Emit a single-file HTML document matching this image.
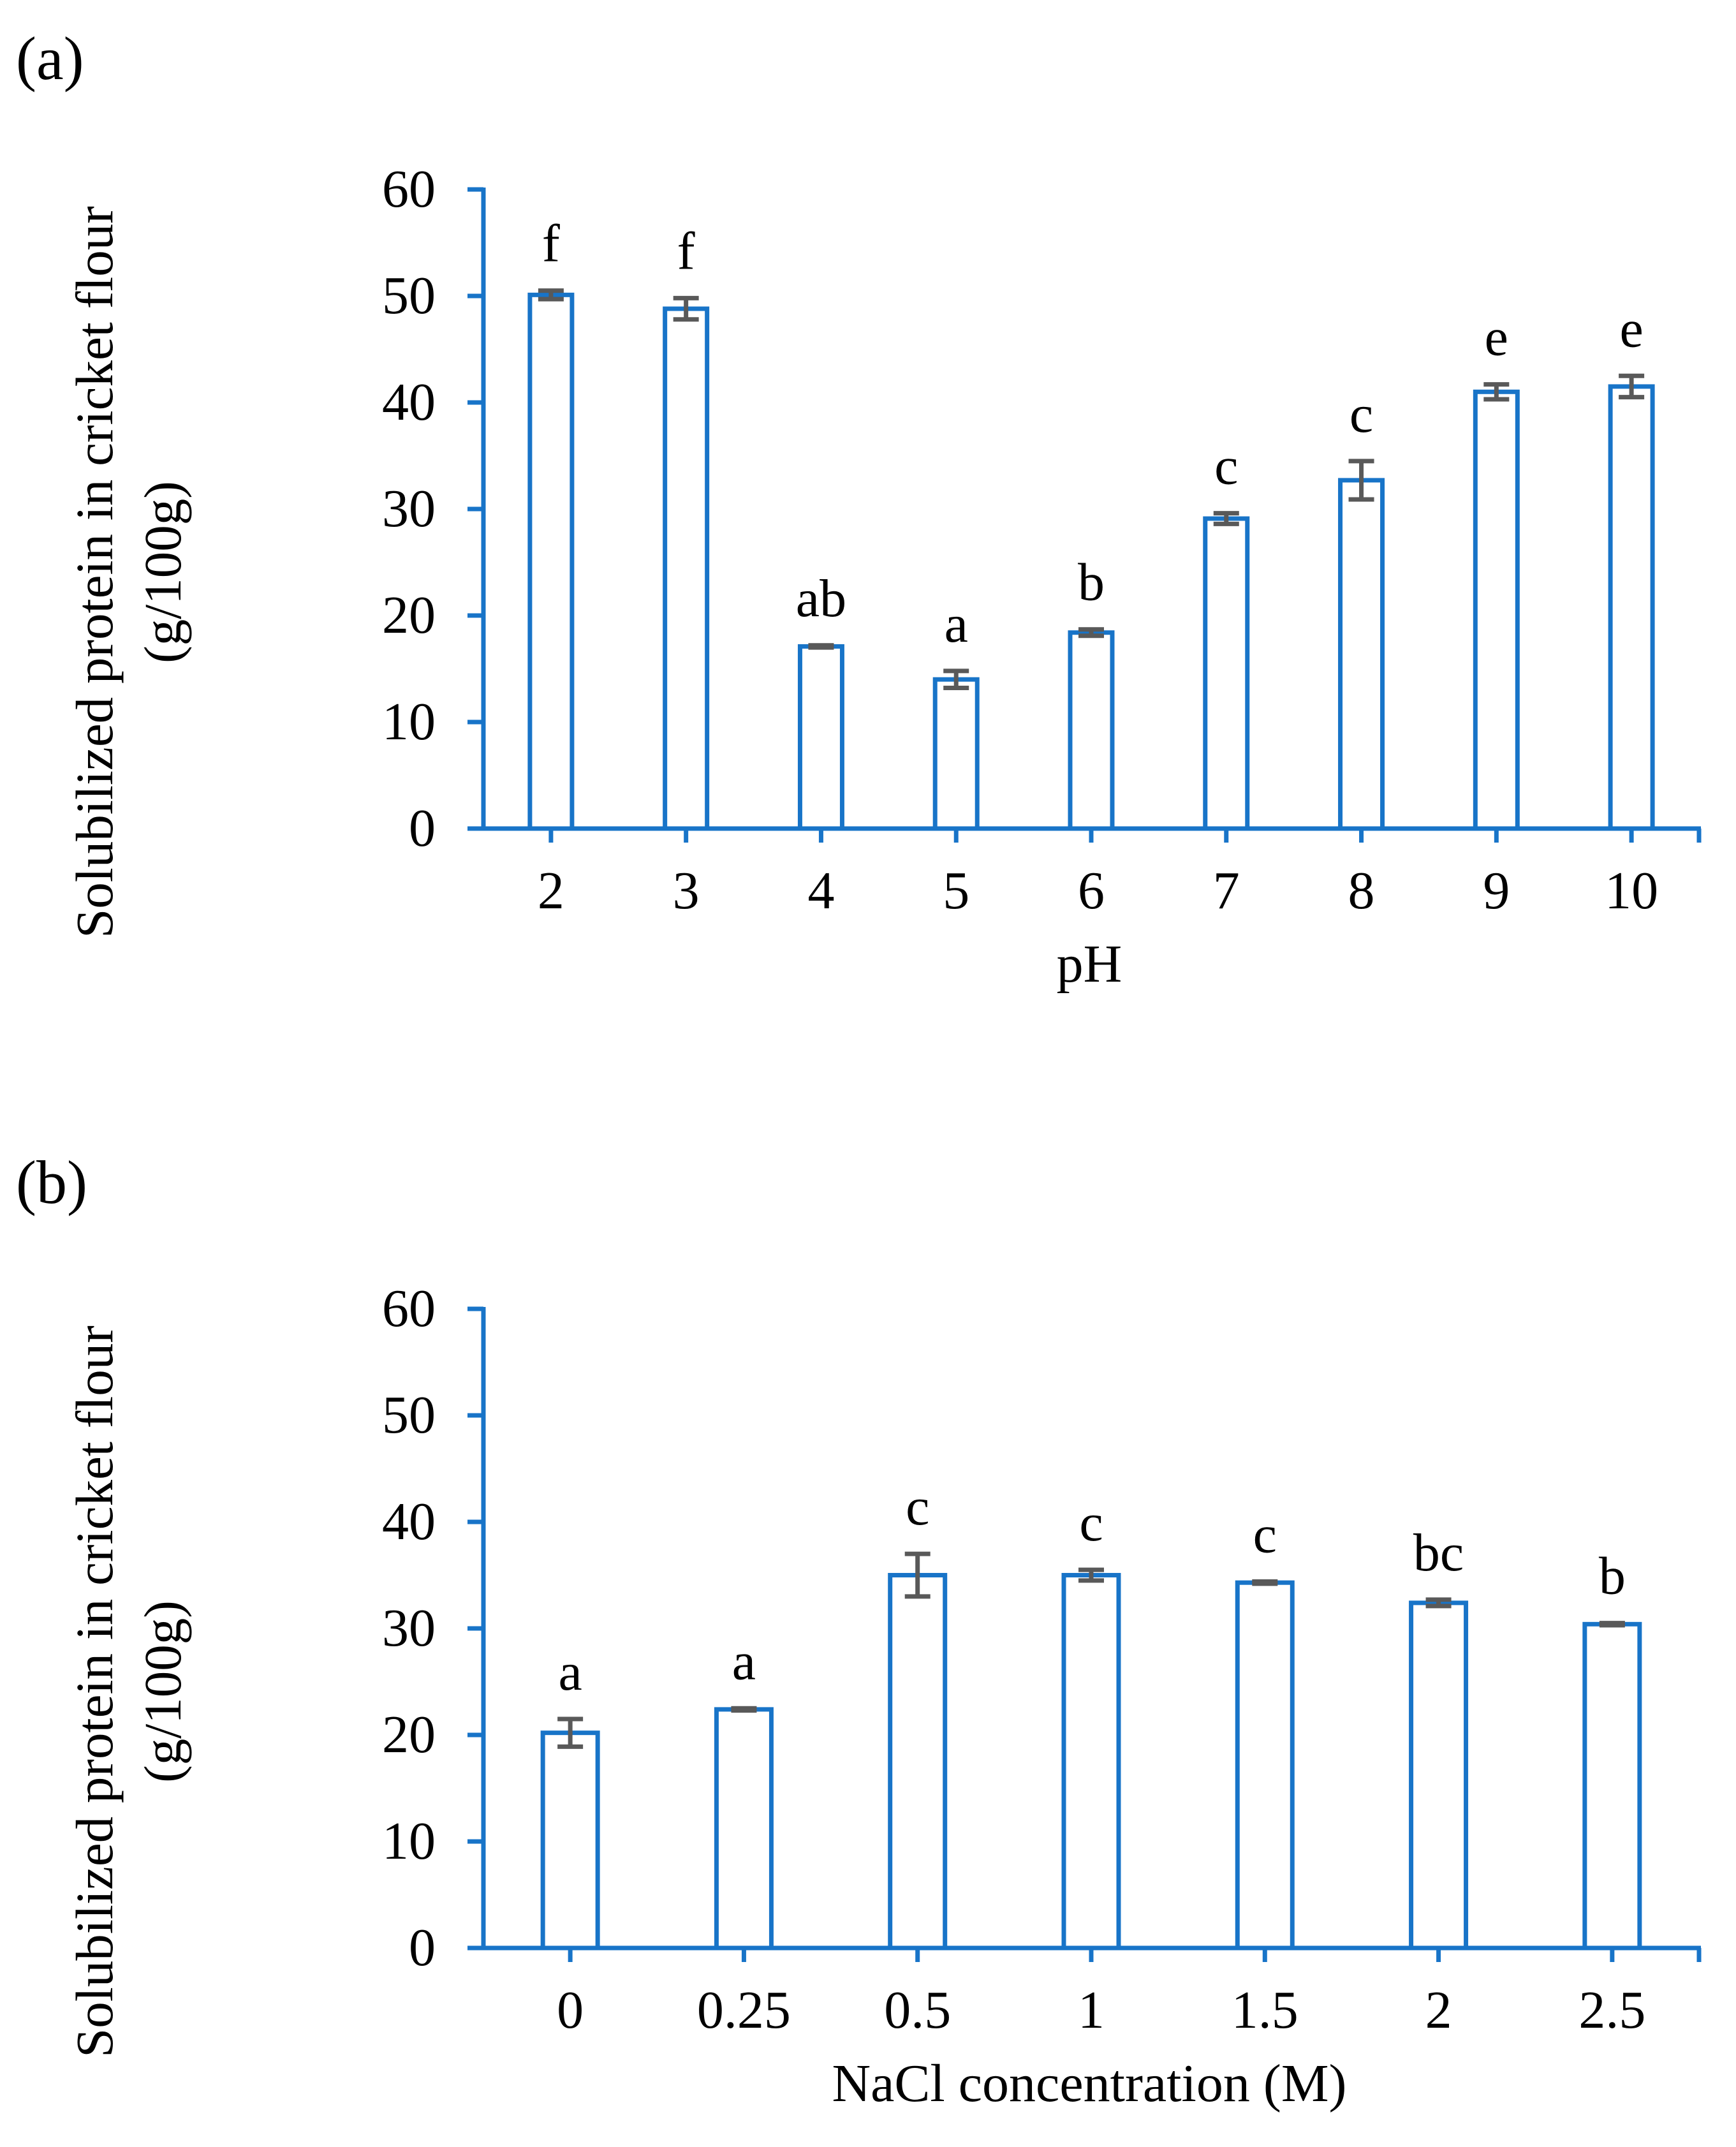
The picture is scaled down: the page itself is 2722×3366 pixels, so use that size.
<!DOCTYPE html>
<html><head><meta charset="utf-8"><style>
html,body{margin:0;padding:0;background:#fff;}
svg{display:block;font-family:"Liberation Serif",serif;}
</style></head><body>
<svg id="fig" width="2722" height="3366" viewBox="0 0 2722 3366" xmlns="http://www.w3.org/2000/svg">
<rect width="2722" height="3366" fill="#fff"/>
<text x="25" y="124" font-size="96">(a)</text>
<text x="25" y="1886" font-size="96">(b)</text>
<g id="pa"></g>
<g id="pb"></g>
</svg>
<script>
const phCategories = ["2","3","4","5","6","7","8","9","10"];
const phValues = [50.1,48.8,17.1,14.0,18.4,29.1,32.7,41.0,41.5];
const phErrors = [0.4,1.0,0.1,0.8,0.3,0.5,1.8,0.7,1.0];
const phLetters = ["f","f","ab","a","b","c","c","e","e"];
const naclCategories = ["0","0.25","0.5","1","1.5","2","2.5"];
const naclValues = [20.2,22.4,35.0,35.0,34.3,32.4,30.4];
const naclErrors = [1.3,0.1,2.0,0.5,0.1,0.3,0.1];
const naclLetters = ["a","a","c","c","c","bc","b"];
const yTicks = [0,10,20,30,40,50,60];

const NS="http://www.w3.org/2000/svg";
const BLUE="#1874c8";
function mk(tag,attrs,parent){const e=document.createElementNS(NS,tag);for(const k in attrs)e.setAttribute(k,attrs[k]);parent.appendChild(e);return e;}

function drawChart(g,cats,vals,errs,letters,zeroY,barW,xTitle,prefix){
  const x0=758,x1=2664,unit=16.7;
  const band=(x1-x0)/cats.length;
  const y=v=>zeroY-v*unit;
  const cx=i=>x0+band*(i+0.5);
  const tt=mk("text",{x:0,y:0,"font-size":83,"text-anchor":"middle",transform:`translate(176,${zeroY-402}) rotate(-90)`},g);
  tt.textContent="Solubilized protein in cricket flour";
  
  
  const tt2=mk("text",{x:0,y:0,"font-size":83,"text-anchor":"middle",transform:`translate(283,${zeroY-402}) rotate(-90)`},g);
  tt2.textContent="(g/100g)";
  
  
  yTicks.forEach(t=>{
    const l=mk("line",{x1:733,x2:758,y1:y(t),y2:y(t),stroke:BLUE,"stroke-width":7},g);
    
    
    const tx=mk("text",{x:683,y:y(t)+27,"font-size":84,"text-anchor":"end"},g);
    tx.textContent=String(t);
    
    
  });
  cats.forEach((c,i)=>{
    const v=vals[i],e=errs[i];
    const r=mk("rect",{x:cx(i)-barW/2,y:y(v),width:barW,height:zeroY-y(v),fill:"#fff",stroke:BLUE,"stroke-width":7},g);
    
    
    const eg=mk("g",{stroke:"#595959","stroke-width":7},g);
    
    
    mk("line",{x1:cx(i),x2:cx(i),y1:y(v+e),y2:y(v-e)},eg);
    mk("line",{x1:cx(i)-20,x2:cx(i)+20,y1:y(v+e),y2:y(v+e)},eg);
    mk("line",{x1:cx(i)-20,x2:cx(i)+20,y1:y(v-e),y2:y(v-e)},eg);
    const lt=mk("text",{x:cx(i),y:y(v+e)-46,"font-size":84,"text-anchor":"middle"},g);
    lt.textContent=letters[i];
    
    
    const xt=mk("line",{x1:cx(i),x2:cx(i),y1:zeroY,y2:zeroY+22,stroke:BLUE,"stroke-width":7},g);
    
    
    const xl=mk("text",{x:cx(i),y:zeroY+125,"font-size":84,"text-anchor":"middle"},g);
    xl.textContent=c;
    
    
  });
  const et=mk("line",{x1:x1,x2:x1,y1:zeroY,y2:zeroY+22,stroke:BLUE,"stroke-width":7},g);
  
  
  const ya=mk("line",{x1:758,x2:758,y1:y(60)-3,y2:zeroY,stroke:BLUE,"stroke-width":7},g);
  
  
  const xa=mk("line",{x1:733,x2:x1+3,y1:zeroY,y2:zeroY,stroke:BLUE,"stroke-width":7},g);
  
  
  const xtt=mk("text",{x:1708,y:zeroY+240,"font-size":84,"text-anchor":"middle"},g);
  xtt.textContent=xTitle;
  
  
}
drawChart(document.getElementById("pa"),phCategories,phValues,phErrors,phLetters,1299,66,"pH","ph");
drawChart(document.getElementById("pb"),naclCategories,naclValues,naclErrors,naclLetters,3054,86,"NaCl concentration (M)","nacl");
</script>
</body></html>
